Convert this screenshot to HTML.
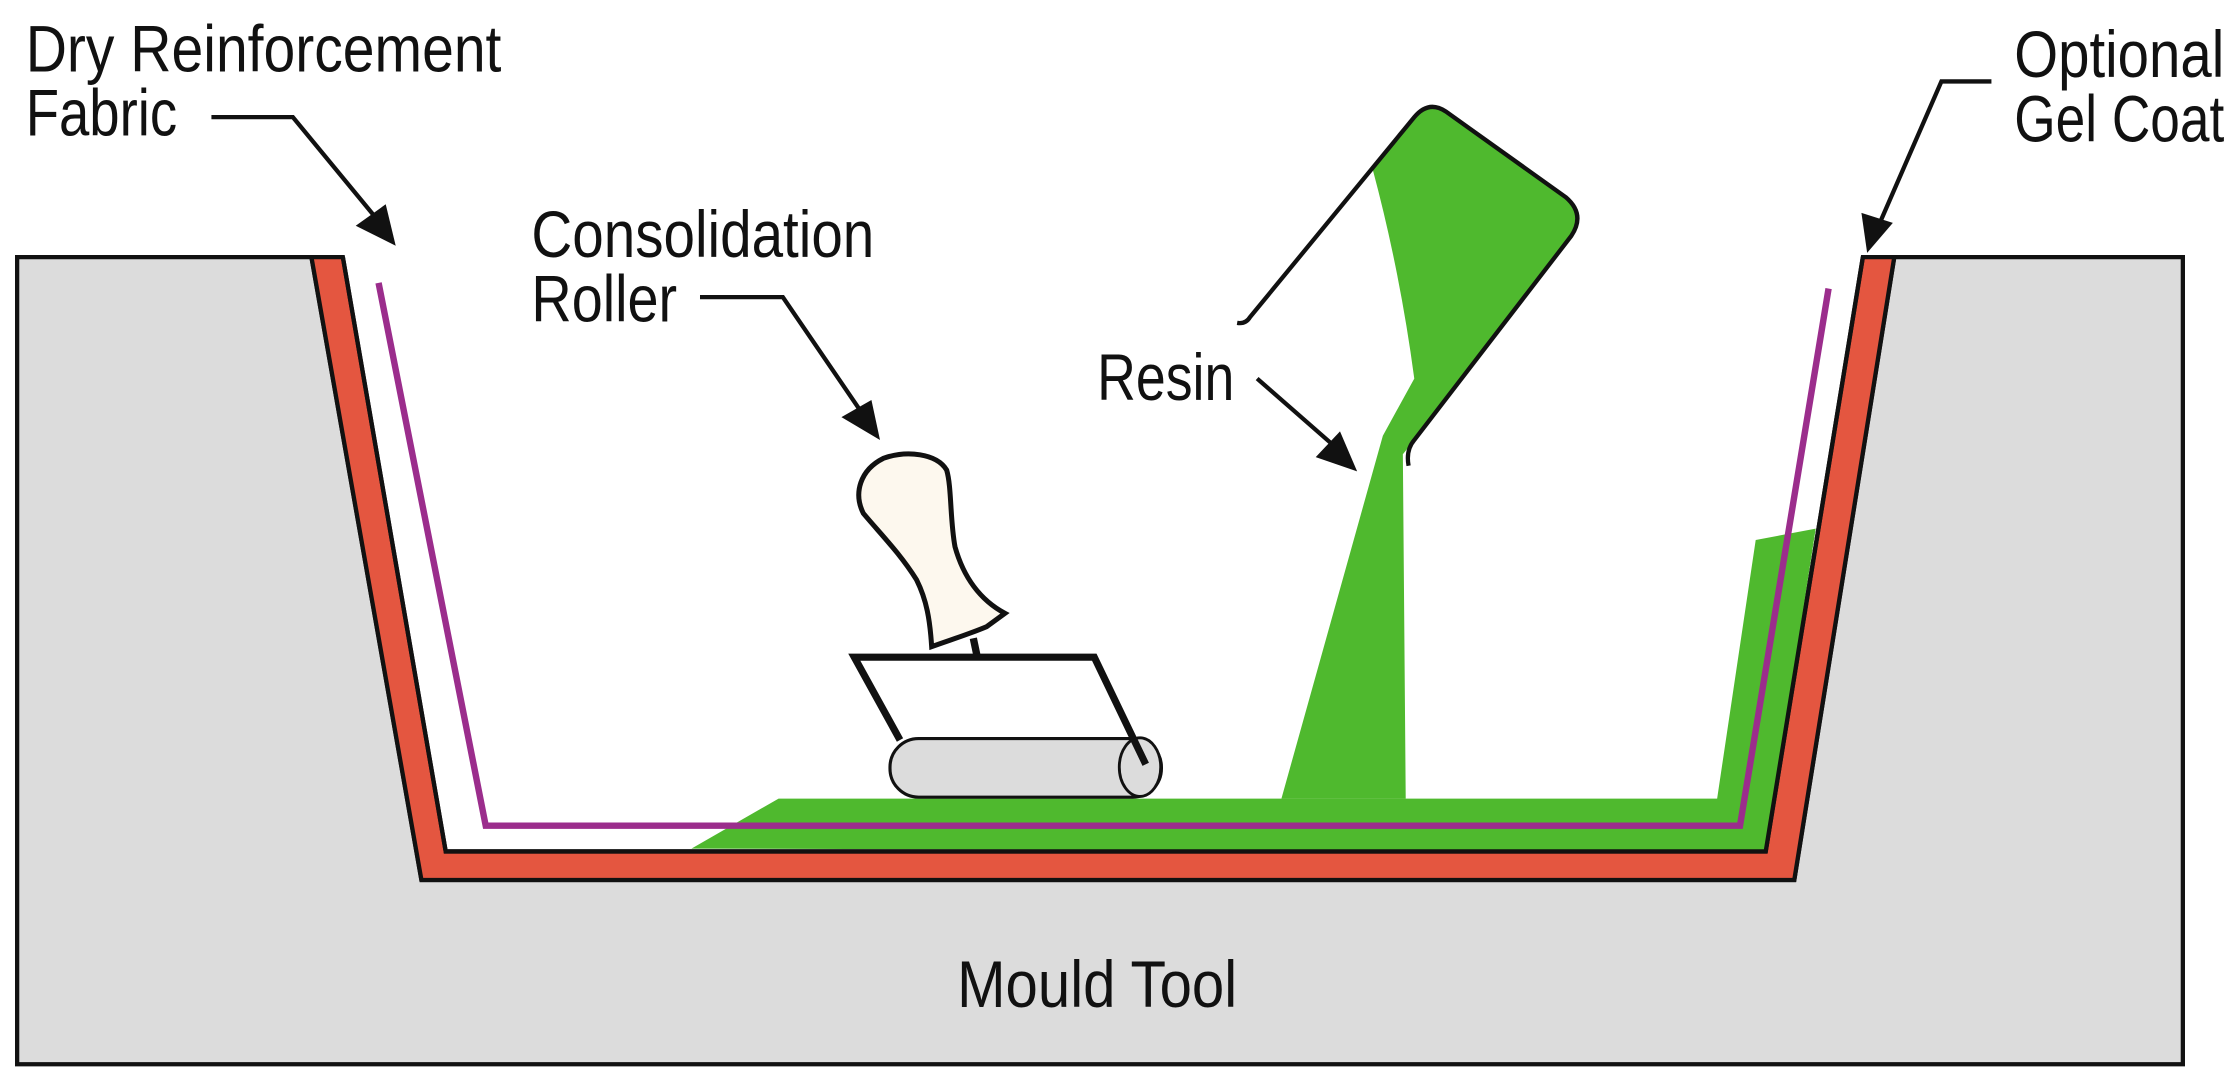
<!DOCTYPE html>
<html><head><meta charset="utf-8"><style>
html,body{margin:0;padding:0;background:#fff;}
svg{display:block;}
text{font-family:"Liberation Sans",sans-serif;fill:#111;}
</style></head><body>
<svg width="2239" height="1084" viewBox="0 0 2239 1084" xmlns="http://www.w3.org/2000/svg">
<g transform="scale(1.42857)">
  <path d="M12,180 L218,180 L295,616 L1256,616 L1326,180 L1528,180 L1528,745 L12,745 Z" fill="#dcdcdc" stroke="#111" stroke-width="3"/>
  <path d="M218,180 L240,180 L312,596 L1236,596 L1304,180 L1326,180 L1256,616 L295,616 Z" fill="#e45640" stroke="#111" stroke-width="3"/>
  <path d="M484,594 L545,559 L1202,559 L1229,378 L1271,370 L1236,596 Z" fill="#4fb92e"/>
  <path d="M240,180 L312,596 L1236,596 L1304,180" stroke="#111" stroke-width="3" fill="none"/>
  <path d="M265,198 L340,578 L1218,578 L1280,202" fill="none" stroke="#9b2d8c" stroke-width="4.5"/>
  <path d="M961,119 Q980,190 990,265 L968,305 L897,559 L984,559 L982,318 L990,308 L1100,165 Q1110,150 1096,138 L1012,78 Q1000,70 990,82 Z" fill="#4fb92e"/>
  <path d="M866,226 Q872,227 875,222 L990,82 Q1000,70 1012,78 L1096,138 Q1110,150 1100,165 L990,308 Q984,315 986,326" fill="none" stroke="#111" stroke-width="3"/>
  <g transform="translate(588,294) scale(0.2333)">
    <path d="M70,280 C40,220 60,150 130,115 C200,90 290,100 320,150 C335,200 330,300 345,380 C370,470 420,540 495,580 L440,620 C380,645 330,660 275,680 C270,600 260,540 230,480 C180,400 120,340 70,280 Z" fill="#fdf8ee" stroke="#111" stroke-width="15"/>
    <path d="M400,655 L412,712" stroke="#111" stroke-width="22"/>
  </g>
  <rect x="623" y="517" width="190" height="41" rx="20" fill="#dcdcdc" stroke="#111" stroke-width="2.2"/>
  <ellipse cx="798" cy="537" rx="14.5" ry="20.5" fill="#dcdcdc" stroke="#111" stroke-width="2"/>
  <path d="M630,518 L598,460 L766,460 L802,535" fill="none" stroke="#111" stroke-width="5"/>
  <g stroke="#111" stroke-width="3" fill="none">
    <path d="M148,82 L205,82 L266,156"/>
    <path d="M490,208 L548,208 L604,290"/>
    <path d="M880,265 L936,314"/>
    <path d="M1394,57 L1359,57 L1315,158"/>
  </g>
  <g fill="#111">
    <polygon points="277,172 249,158 270,143"/>
    <polygon points="616,308 589,292 610,280"/>
    <polygon points="950,330 921,320 938,302"/>
    <polygon points="1307,177 1303,149 1325,156"/>
  </g>
  <text x="18" y="50" font-size="46" textLength="333" lengthAdjust="spacingAndGlyphs">Dry Reinforcement</text>
  <text x="18" y="95" font-size="46" textLength="106" lengthAdjust="spacingAndGlyphs">Fabric</text>
  <text x="372" y="180" font-size="46" textLength="240" lengthAdjust="spacingAndGlyphs">Consolidation</text>
  <text x="372" y="225" font-size="46" textLength="102" lengthAdjust="spacingAndGlyphs">Roller</text>
  <text x="768" y="280" font-size="46" textLength="96" lengthAdjust="spacingAndGlyphs">Resin</text>
  <text x="1410" y="54" font-size="46" textLength="147" lengthAdjust="spacingAndGlyphs">Optional</text>
  <text x="1410" y="99" font-size="46" textLength="147" lengthAdjust="spacingAndGlyphs">Gel Coat</text>
  <text x="670" y="705" font-size="46" textLength="196" lengthAdjust="spacingAndGlyphs">Mould Tool</text>
</g>
</svg>
</body></html>
